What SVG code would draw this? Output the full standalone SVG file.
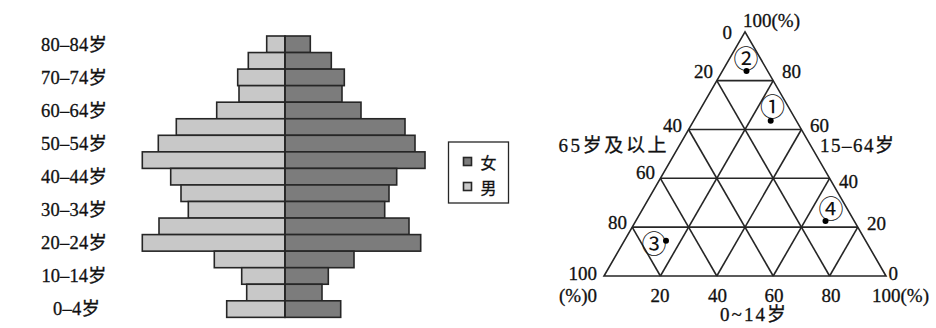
<svg xmlns="http://www.w3.org/2000/svg" width="936" height="328" viewBox="0 0 936 328">
<style>
.t{font-family:"Liberation Serif","Noto Sans CJK SC",serif;font-size:18.5px;fill:#111;stroke:#111;stroke-width:0.3}
.tt{font-family:"Liberation Serif","Noto Sans CJK SC",serif;font-size:19px;fill:#111;stroke:#111;stroke-width:0.3}
.m{fill:#c8c8c8;stroke:#262626;stroke-width:1.6}
.f{fill:#7c7c7c;stroke:#262626;stroke-width:1.6}
.g{stroke:#262626;stroke-width:1.6;fill:none}
.c{font-family:"Noto Sans CJK SC","DejaVu Sans",sans-serif;font-size:25px;fill:#111}
</style>
<rect width="936" height="328" fill="#fff"/>
<g id="pyramid">
<g id="bars">
<rect class="m" x="266.7" y="36" width="18.3" height="16.55"/><rect class="f" x="285" y="36" width="25.3" height="16.55"/>
<rect class="m" x="248.3" y="52.55" width="36.7" height="16.55"/><rect class="f" x="285" y="52.55" width="46.3" height="16.55"/>
<rect class="m" x="237.7" y="69.1" width="47.3" height="16.55"/><rect class="f" x="285" y="69.1" width="59.3" height="16.55"/>
<rect class="m" x="239" y="85.65" width="46" height="16.55"/><rect class="f" x="285" y="85.65" width="57" height="16.55"/>
<rect class="m" x="216.7" y="102.2" width="68.3" height="16.55"/><rect class="f" x="285" y="102.2" width="76" height="16.55"/>
<rect class="m" x="176.3" y="118.75" width="108.7" height="16.55"/><rect class="f" x="285" y="118.75" width="120" height="16.55"/>
<rect class="m" x="158.3" y="135.3" width="126.7" height="16.55"/><rect class="f" x="285" y="135.3" width="130" height="16.55"/>
<rect class="m" x="142.3" y="151.85" width="142.7" height="16.55"/><rect class="f" x="285" y="151.85" width="140" height="16.55"/>
<rect class="m" x="170.7" y="168.4" width="114.3" height="16.55"/><rect class="f" x="285" y="168.4" width="111.7" height="16.55"/>
<rect class="m" x="181" y="184.95" width="104" height="16.55"/><rect class="f" x="285" y="184.95" width="104" height="16.55"/>
<rect class="m" x="188.3" y="201.5" width="96.7" height="16.55"/><rect class="f" x="285" y="201.5" width="99.7" height="16.55"/>
<rect class="m" x="159" y="218.05" width="126" height="16.55"/><rect class="f" x="285" y="218.05" width="124" height="16.55"/>
<rect class="m" x="142.3" y="234.6" width="142.7" height="16.55"/><rect class="f" x="285" y="234.6" width="135.7" height="16.55"/>
<rect class="m" x="214.3" y="251.15" width="70.7" height="16.55"/><rect class="f" x="285" y="251.15" width="69" height="16.55"/>
<rect class="m" x="241.7" y="267.7" width="43.3" height="16.55"/><rect class="f" x="285" y="267.7" width="43.3" height="16.55"/>
<rect class="m" x="246.7" y="284.25" width="38.3" height="16.55"/><rect class="f" x="285" y="284.25" width="37" height="16.55"/>
<rect class="m" x="226.7" y="300.8" width="58.3" height="16.55"/><rect class="f" x="285" y="300.8" width="55.7" height="16.55"/>
<line x1="285" y1="36" x2="285" y2="317.4" stroke="#262626" stroke-width="1.6"/>
</g>
<g id="age-labels" text-anchor="middle">
<text class="t" x="74" y="50.5" textLength="66">80–84岁</text>
<text class="t" x="74" y="83.6" textLength="66">70–74岁</text>
<text class="t" x="74" y="116.7" textLength="66">60–64岁</text>
<text class="t" x="74" y="149.8" textLength="66">50–54岁</text>
<text class="t" x="74" y="182.9" textLength="66">40–44岁</text>
<text class="t" x="74" y="216" textLength="66">30–34岁</text>
<text class="t" x="74" y="249.1" textLength="66">20–24岁</text>
<text class="t" x="74" y="282.2" textLength="65">10–14岁</text>
<text class="t" x="76.5" y="315.3" textLength="47">0–4岁</text>
</g>
</g>
<g id="legend">
<rect x="448.5" y="142" width="60" height="61" fill="#fff" stroke="#262626" stroke-width="1.3"/>
<rect class="f" x="463.5" y="157.5" width="8" height="8" stroke-width="1.2"/>
<rect class="m" x="463.5" y="182.5" width="8" height="8" stroke-width="1.2"/>
<text class="t" x="480.5" y="168.5" style="font-size:16px">女</text>
<text class="t" x="480.5" y="193.5" style="font-size:16px">男</text>
</g>
<g id="triangle">
<g id="grid">
<polygon class="g" points="745,31.8 604,276 886,276"/>
<line class="g" x1="716.8" y1="80.64" x2="773.2" y2="80.64"/>
<line class="g" x1="688.6" y1="129.48" x2="801.4" y2="129.48"/>
<line class="g" x1="660.4" y1="178.32" x2="829.6" y2="178.32"/>
<line class="g" x1="632.2" y1="227.16" x2="857.8" y2="227.16"/>
<line class="g" x1="716.8" y1="80.64" x2="829.6" y2="276"/>
<line class="g" x1="688.6" y1="129.48" x2="773.2" y2="276"/>
<line class="g" x1="660.4" y1="178.32" x2="716.8" y2="276"/>
<line class="g" x1="632.2" y1="227.16" x2="660.4" y2="276"/>
<line class="g" x1="773.2" y1="80.64" x2="660.4" y2="276"/>
<line class="g" x1="801.4" y1="129.48" x2="716.8" y2="276"/>
<line class="g" x1="829.6" y1="178.32" x2="773.2" y2="276"/>
<line class="g" x1="857.8" y1="227.16" x2="829.6" y2="276"/>
</g>
<g id="tri-labels">
<text class="tt" x="743" y="27">100(%)</text>
<text class="tt" x="732" y="39" text-anchor="end">0</text>
<text class="tt" x="713" y="77.5" text-anchor="end">20</text>
<text class="tt" x="782" y="77.5">80</text>
<text class="tt" x="682" y="131.5" text-anchor="end">40</text>
<text class="tt" x="810" y="131.5">60</text>
<text class="tt" x="558.5" y="152" textLength="108">65岁及以上</text>
<text class="tt" x="820" y="152" textLength="74">15–64岁</text>
<text class="tt" x="655" y="179.3" text-anchor="end">60</text>
<text class="tt" x="839" y="187.5">40</text>
<text class="tt" x="627" y="228.5" text-anchor="end">80</text>
<text class="tt" x="867" y="230">20</text>
<text class="tt" x="597" y="280" text-anchor="end">100</text>
<text class="tt" x="888.5" y="280">0</text>
<text class="tt" x="597" y="302" text-anchor="end">(%)0</text>
<text class="tt" x="660" y="302" text-anchor="middle">20</text>
<text class="tt" x="717.5" y="302" text-anchor="middle">40</text>
<text class="tt" x="774" y="302" text-anchor="middle">60</text>
<text class="tt" x="831" y="302" text-anchor="middle">80</text>
<text class="tt" x="872" y="302">100(%)</text>
<text class="tt" x="753" y="321" text-anchor="middle" textLength="66">0~14岁</text>
</g>
<g id="points">
<text class="c" x="746" y="57" text-anchor="middle" dominant-baseline="central">②</text>
<circle cx="746.5" cy="71" r="3"/>
<text class="c" x="772.5" y="104.5" text-anchor="middle" dominant-baseline="central">①</text>
<circle cx="770.7" cy="120.7" r="3"/>
<text class="c" x="831" y="206.5" text-anchor="middle" dominant-baseline="central">④</text>
<circle cx="825.5" cy="221" r="3"/>
<text class="c" x="654" y="241.5" text-anchor="middle" dominant-baseline="central">③</text>
<circle cx="666" cy="240.7" r="3"/>
</g>
</g>
</svg>
